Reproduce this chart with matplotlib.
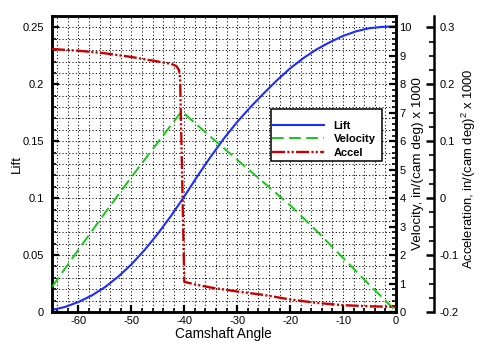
import matplotlib
matplotlib.use("Agg")
import matplotlib.pyplot as plt
from matplotlib.patches import Rectangle
from matplotlib.ticker import MultipleLocator, FixedLocator, FixedFormatter

plt.rcParams['font.family'] = ['Liberation Sans', 'DejaVu Sans']
plt.rcParams['mathtext.fontset'] = 'custom'
plt.rcParams['mathtext.rm'] = 'Liberation Sans'
plt.rcParams['axes.unicode_minus'] = False

# Cam profile data
lift_angle = [-65, -62.5, -60, -57.5, -55, -52.5, -50, -47.5, -45, -42.5, -40,
              -37.5, -35, -32.5, -30, -27.5, -25, -22.5, -20, -17.5, -15,
              -12.5, -10, -7.5, -5, -2.5, 0]
lift = [0.0018, 0.0045, 0.0088, 0.0145, 0.0218, 0.0310, 0.0418, 0.0545, 0.0688,
        0.0845, 0.1015, 0.1195, 0.1365, 0.1525, 0.1670, 0.1800, 0.1920, 0.2035,
        0.2140, 0.2230, 0.2307, 0.2370, 0.2425, 0.2466, 0.2493, 0.2505, 0.2508]

vel_angle = [-65, -60, -55, -50, -45, -40.5, -35, -30, -25, -20, -15, -10, -5, 0]
velocity = [0.88, 2.19, 3.48, 4.74, 5.96, 7.05, 6.15, 5.35, 4.55, 3.75, 2.85,
            1.9, 0.95, 0.03]

acc_angle = [-65, -60, -55, -50, -45, -42.5, -41.5, -41, -40.8, -40.0, -38, -35,
             -30, -25, -20, -15, -10, -5, 0]
accel = [0.262, 0.259, 0.2545, 0.248, 0.240, 0.236, 0.232, 0.225, 0.212, -0.147,
         -0.1515, -0.157, -0.164, -0.170, -0.178, -0.184, -0.188, -0.190, -0.191]

x_ticks = [-60, -50, -40, -30, -20, -10, 0]
lift_ticks = [0, 0.05, 0.1, 0.15, 0.2, 0.25]
lift_labels = ['0', '0.05', '0.1', '0.15', '0.2', '0.25']
vel_ticks = [0, 1, 2, 3, 4, 5, 6, 7, 8, 9, 10]
acc_ticks = [-0.2, -0.1, 0, 0.1, 0.2, 0.3]
acc_labels = ['-0.2', '-0.1', '0', '0.1', '0.2', '0.3']

BLUE = '#1a2cff'
GREEN = '#14c814'
RED = '#c80000'
W, H = 481, 345

fig = plt.figure(figsize=(W / 100, H / 100), dpi=100)
ax = fig.add_axes([52 / W, 1 - 312 / H, 344 / W, 296 / H])

ax.set_xlim(-65, 0)
ax.set_ylim(0, 0.26)

# dotted grid
grid_style = dict(color='black', lw=0.75, ls=(0, (1, 2.2)), zorder=0.5)
for gx in range(-64, 1, 2):
    ax.axvline(gx, **grid_style)
for i in range(1, 26):
    ax.axhline(i * 0.01, **grid_style)

l1, = ax.plot(lift_angle, lift, color=BLUE, lw=1.5, label='Lift', zorder=3)

ax.xaxis.set_major_locator(FixedLocator(x_ticks))
ax.xaxis.set_minor_locator(MultipleLocator(2))
ax.yaxis.set_major_locator(FixedLocator(lift_ticks))
ax.yaxis.set_major_formatter(FixedFormatter(lift_labels))
ax.yaxis.set_minor_locator(MultipleLocator(0.01))
ax.tick_params(which='both', direction='in', labelsize=8, color='black')
ax.tick_params(which='major', length=5, width=1.6)
ax.tick_params(which='minor', length=3, width=1.2)
ax.tick_params(axis='y', which='both', right=False, pad=6)
ax.tick_params(axis='x', which='both', top=False, pad=3)
for s in ax.spines.values():
    s.set_linewidth(1.8)

ax.set_xlabel('Camshaft Angle', fontsize=9.8)
ax.xaxis.set_label_coords(0.497, -0.075)
ax.xaxis.label.set_va('center')
ax.set_ylabel('Lift', fontsize=9.6)
ax.yaxis.set_label_coords(-0.102, 0.5)
ax.yaxis.label.set_va('center')

# velocity axis on the right spine
axv = ax.twinx()
axv.set_ylim(0, 10.4)
l2, = axv.plot(vel_angle, velocity, color=GREEN, lw=1.4, dashes=(6, 2.8),
               label='Velocity', zorder=3)
axv.yaxis.set_major_locator(FixedLocator(vel_ticks))
axv.yaxis.set_minor_locator(MultipleLocator(0.2))
axv.tick_params(which='both', direction='in', labelsize=8, pad=2.5)
axv.tick_params(which='major', length=5, width=1.6)
axv.tick_params(which='minor', length=3, width=1.2)
for s in axv.spines.values():
    s.set_linewidth(1.8)
axv.set_ylabel('Velocity, in/(cam deg) x 1000', fontsize=9.7)
axv.yaxis.set_label_coords(1.0625, 0.502)
axv.yaxis.label.set_va('center')

# acceleration axis, offset to the right
axa = ax.twinx()
axa.spines['right'].set_position(('axes', 1.1105))
axa.set_ylim(-0.2, 0.32)
l3, = axa.plot(acc_angle, accel, color=RED, lw=1.7,
               dashes=(5.5, 1, 0.9, 0.9, 0.9, 1), label='Accel', zorder=3)
axa.yaxis.set_major_locator(FixedLocator(acc_ticks))
axa.yaxis.set_major_formatter(FixedFormatter(acc_labels))
axa.yaxis.set_minor_locator(MultipleLocator(0.025))
axa.tick_params(which='both', direction='in', labelsize=8, pad=4)
axa.tick_params(which='major', length=5.5, width=1.8)
axa.tick_params(which='minor', length=3.5, width=1.2)
for name, s in axa.spines.items():
    s.set_linewidth(1.8)
    if name != 'right':
        s.set_visible(False)
axa.set_ylabel(r'Acceleration, in/(cam deg)$^2$ x 1000', fontsize=9.4)
axa.yaxis.set_label_coords(1.2108, 0.483)
axa.yaxis.label.set_va('center')

# legend with a plain rectangular frame
leg = axa.legend(handles=[l1, l2, l3], loc='upper left',
                 bbox_to_anchor=(272 / W, 1 - 121 / H),
                 bbox_transform=fig.transFigure, frameon=False,
                 handlelength=4.7, handletextpad=0.85, borderpad=0.0,
                 labelspacing=0.3, borderaxespad=0,
                 prop={'weight': 'bold', 'size': 8})
leg.set_zorder(10)
frame = Rectangle((271.5 / W, 1 - 161.3 / H), 110.5 / W, 52.3 / H,
                  transform=fig.transFigure, facecolor='white',
                  edgecolor='black', lw=1.1, zorder=9)
axa.add_artist(frame)
frame.set_clip_on(False)

fig.savefig('out.png', dpi=100)
